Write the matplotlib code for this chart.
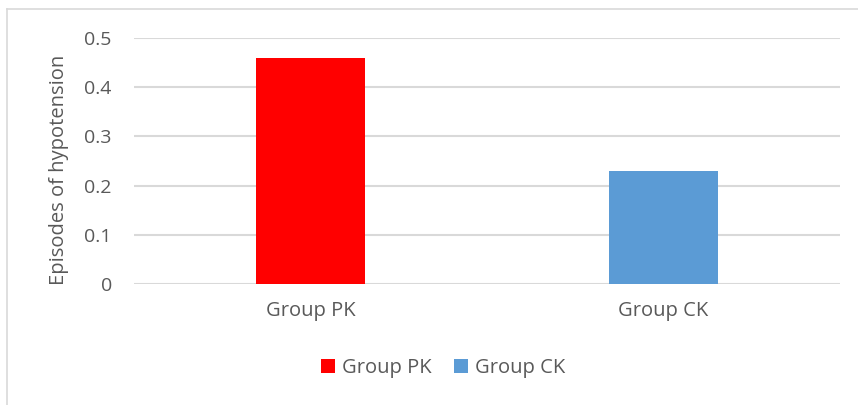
import matplotlib
matplotlib.use("Agg")
import matplotlib.pyplot as plt
from matplotlib.patches import Patch

categories = ["Group PK", "Group CK"]
values = [0.46, 0.23]
colors = ["#FF0000", "#5B9BD5"]
yticks = [0, 0.1, 0.2, 0.3, 0.4, 0.5]
ylabel = "Episodes of hypotension"

plt.rcParams['font.family'] = ['Open Sans', 'DejaVu Sans']
txt = "#595959"

fig = plt.figure(figsize=(8.58, 4.05), dpi=100)
ax = fig.add_axes([134/858, 1-284/405, (840-134)/858, (284-38)/405])

x = list(range(len(categories)))
ax.bar(x, values, width=0.31, color=colors, zorder=3)
ax.set_xlim(-0.5, len(categories) - 0.5)
ax.set_ylim(0, 0.5)
ax.set_yticks(yticks)
ax.set_yticklabels([f"{t:g}" for t in yticks], color=txt, fontsize=14)
ax.set_xticks(x)
ax.set_xticklabels(categories, color=txt, fontsize=14.5)
ax.tick_params(axis='y', length=0, pad=16)
ax.tick_params(axis='x', length=0, pad=12)
ax.grid(axis='y', color="#D9D9D9", linewidth=1.5, zorder=0)
for s in ax.spines.values():
    s.set_visible(False)
ax.set_ylabel(ylabel, color=txt, fontsize=14.5)
ax.yaxis.set_label_coords(69/858, 1-170/405, transform=fig.transFigure)

handles = [Patch(facecolor=c, label=l) for c, l in zip(colors, categories)]
leg = fig.legend(handles=handles, loc='center', bbox_to_anchor=(443/858, 1-368/405),
                 ncol=2, frameon=False, fontsize=14.5, handlelength=0.7, handleheight=0.7,
                 handletextpad=0.35, columnspacing=1.1)
for t in leg.get_texts():
    t.set_color(txt)

# chart border (top and left visible)
fig.add_artist(plt.Line2D([7/858, 1], [1-9/405, 1-9/405], transform=fig.transFigure, color="#D9D9D9", linewidth=1.2))
fig.add_artist(plt.Line2D([7/858, 7/858], [0, 1-9/405], transform=fig.transFigure, color="#D9D9D9", linewidth=1.2))

fig.savefig("out.png", dpi=100)
